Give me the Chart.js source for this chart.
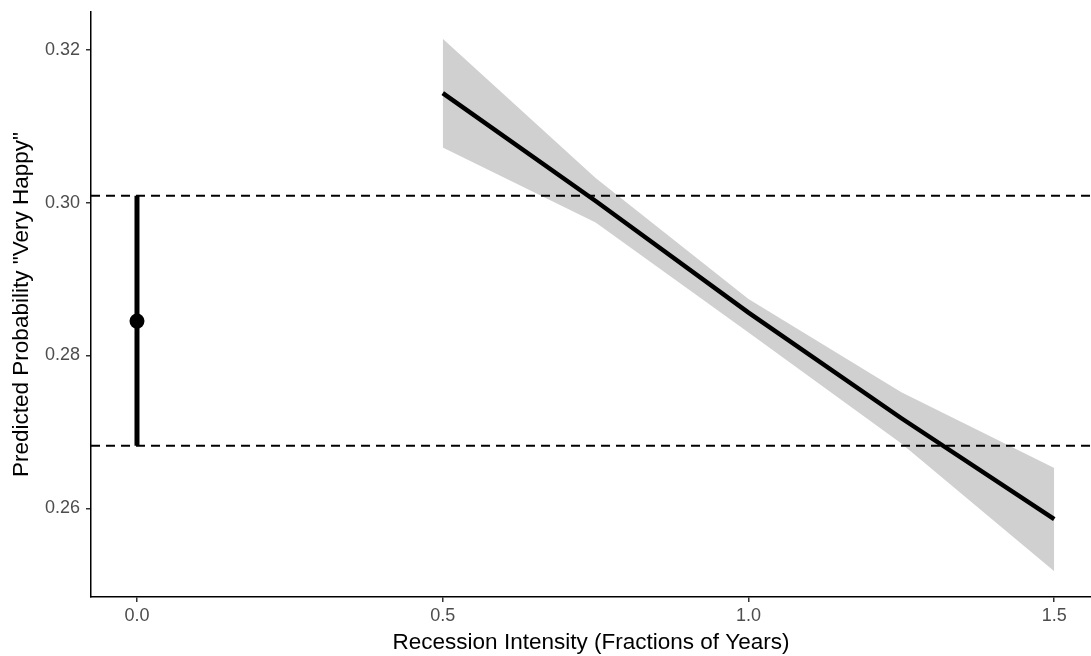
<!DOCTYPE html>
<html>
<head>
<meta charset="utf-8">
<script src="https://cdn.jsdelivr.net/npm/chart.js@4/dist/chart.umd.min.js"></script>
<style>
  html, body { margin: 0; padding: 0; background: #ffffff; }
  #wrap { width: 1091px; height: 656px; }
</style>
</head>
<body>
<div id="wrap"><canvas id="chart" width="1091" height="656"></canvas></div>
<script>
// Recession intensity values where the prediction is evaluated
const intensity = [0.5, 0.75, 1.0, 1.25, 1.5];
// Predicted probability of "very happy" and its confidence band
const predicted = [0.3143, 0.3002, 0.2856, 0.2718, 0.2586];
const upperCI   = [0.3214, 0.3032, 0.2874, 0.2752, 0.2653];
const lowerCI   = [0.3072, 0.2974, 0.2830, 0.2685, 0.2518];

// No-recession baseline estimate with its interval
const baselineX = [0];
const baselinePoint = [0.2845];
const baselineLower = [0.2682];
const baselineUpper = [0.3009];

// Axis tick labels
const xTicks = [0.0, 0.5, 1.0, 1.5];
const yTicks = [0.26, 0.28, 0.30, 0.32];

const X_MIN = -0.0752, X_MAX = 1.5601;
const Y_MIN = 0.24843, Y_MAX = 0.32491;

const FONT = "'Liberation Sans', Arial, Helvetica, sans-serif";

const pts = (xs, ys) => xs.map((x, i) => ({ x: x, y: ys[i] }));

const datasets = [
  // confidence band: upper edge filled down to the lower edge
  {
    label: 'upper', data: pts(intensity, upperCI),
    borderWidth: 0, borderColor: 'rgba(0,0,0,0)', pointRadius: 0,
    backgroundColor: '#d0d0d0', fill: '+1', order: 5
  },
  {
    label: 'lower', data: pts(intensity, lowerCI),
    borderWidth: 0, borderColor: 'rgba(0,0,0,0)', pointRadius: 0,
    fill: false, order: 5
  },
  // reference lines at the baseline interval bounds
  {
    label: 'ref-upper', data: [{ x: X_MIN, y: baselineUpper[0] }, { x: X_MAX, y: baselineUpper[0] }],
    borderColor: '#000000', borderWidth: 2, borderDash: [9, 6], pointRadius: 0, fill: false, order: 4
  },
  {
    label: 'ref-lower', data: [{ x: X_MIN, y: baselineLower[0] }, { x: X_MAX, y: baselineLower[0] }],
    borderColor: '#000000', borderWidth: 2, borderDash: [9, 6], pointRadius: 0, fill: false, order: 4
  },
  // predicted probability line
  {
    label: 'predicted', data: pts(intensity, predicted),
    borderColor: '#000000', borderWidth: 4.5, pointRadius: 0, fill: false,
    borderCapStyle: 'butt', order: 2
  },
  // baseline interval bar
  {
    label: 'baseline-interval',
    data: [{ x: baselineX[0], y: baselineLower[0] }, { x: baselineX[0], y: baselineUpper[0] }],
    borderColor: '#000000', borderWidth: 5, pointRadius: 0, fill: false,
    borderCapStyle: 'butt', order: 2
  },
  // baseline point estimate
  {
    label: 'baseline', data: pts(baselineX, baselinePoint),
    showLine: false, pointRadius: 7.5, pointBackgroundColor: '#000000',
    pointBorderWidth: 0, borderColor: '#000000', order: 1
  }
];

new Chart(document.getElementById('chart'), {
  type: 'line',
  data: { datasets: datasets },
  options: {
    responsive: false,
    animation: false,
    events: [],
    layout: { autoPadding: false, padding: { top: 12, right: 0, bottom: 0, left: 0 } },
    plugins: { legend: { display: false }, tooltip: { enabled: false } },
    elements: { line: { tension: 0 } },
    scales: {
      x: {
        type: 'linear', min: X_MIN, max: X_MAX,
        afterBuildTicks: s => { s.ticks = xTicks.map(v => ({ value: v })); },
        afterFit: s => { s.height = 59; s.paddingLeft = 0; s.paddingRight = 0; },
        ticks: {
          callback: v => Number(v).toFixed(1),
          color: '#4d4d4d', font: { family: FONT, size: 18 }, padding: 3,
          maxRotation: 0, autoSkip: false
        },
        grid: { display: true, drawOnChartArea: false, drawTicks: true, tickLength: 5, color: '#333333', lineWidth: 1.5 },
        border: { display: true, color: '#000000', width: 1.5 },
        title: {
          display: true, text: 'Recession Intensity (Fractions of Years)',
          color: '#000000', font: { family: FONT, size: 22.5 }, padding: { top: 0, bottom: 0 }
        }
      },
      y: {
        type: 'linear', min: Y_MIN, max: Y_MAX,
        afterBuildTicks: s => { s.ticks = yTicks.map(v => ({ value: v })); },
        afterFit: s => { s.width = 91; s.paddingTop = 0; s.paddingBottom = 0; },
        ticks: {
          callback: v => Number(v).toFixed(2),
          color: '#4d4d4d', font: { family: FONT, size: 18 }, padding: 6, autoSkip: false
        },
        grid: { display: true, drawOnChartArea: false, drawTicks: true, tickLength: 5, color: '#333333', lineWidth: 1.5 },
        border: { display: true, color: '#000000', width: 1.5 },
        title: {
          display: true, text: 'Predicted Probability "Very Happy"',
          color: '#000000', font: { family: FONT, size: 22.5 }, padding: { top: 8, bottom: 0 }
        }
      }
    }
  }
});
</script>
</body>
</html>
